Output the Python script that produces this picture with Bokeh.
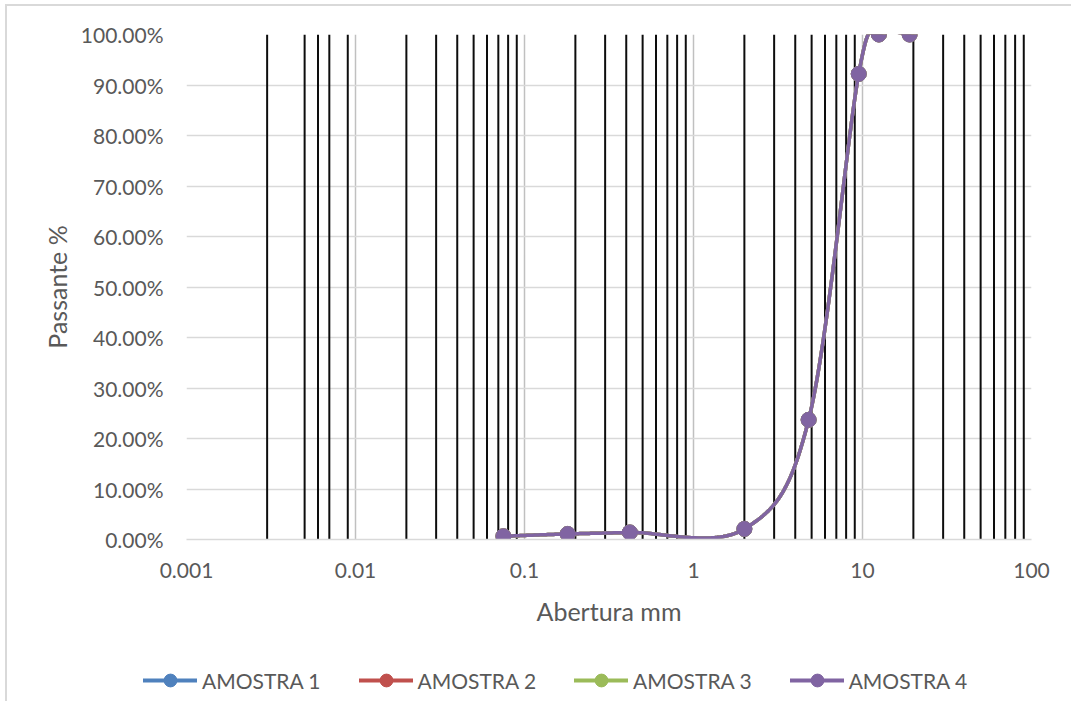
import numpy as np
from bokeh.plotting import figure
from bokeh.layouts import column
from bokeh.models import (FixedTicker, NumeralTickFormatter, Legend, LegendItem, Range1d)
from bokeh.embed import file_html
from bokeh.resources import INLINE

# ---------------- data ----------------
abertura_mm = [0.075, 0.18, 0.42, 2.0, 4.8, 9.5, 12.5, 19.0]
amostra_1 = [0.0065, 0.011, 0.014, 0.021, 0.237, 0.922, 1.0, 1.0]
amostra_2 = [0.0065, 0.011, 0.014, 0.021, 0.237, 0.922, 1.0, 1.0]
amostra_3 = [0.0065, 0.011, 0.014, 0.021, 0.237, 0.922, 1.0, 1.0]
amostra_4 = [0.0065, 0.011, 0.014, 0.021, 0.237, 0.922, 1.0, 1.0]
series_names = ["AMOSTRA 1", "AMOSTRA 2", "AMOSTRA 3", "AMOSTRA 4"]
series_colors = ["#4F81BD", "#C0504D", "#9BBB59", "#8064A2"]

x_tick_values = [0.001, 0.01, 0.1, 1, 10, 100]
x_tick_labels = ["0.001", "0.01", "0.1", "1", "10", "100"]
y_tick_values = [0.0, 0.1, 0.2, 0.3, 0.4, 0.5, 0.6, 0.7, 0.8, 0.9, 1.0]

# black vertical reference lines
black_line_x = [0.003, 0.005, 0.006, 0.007, 0.009,
                0.02, 0.03, 0.04, 0.05, 0.06, 0.07, 0.08, 0.09,
                0.2, 0.3, 0.4, 0.5, 0.6, 0.7, 0.8, 0.9,
                2, 3, 4, 5, 6, 7, 8, 9,
                20, 30, 40, 50, 60, 70, 80, 90]

FONT = "Lato"
TXT = "#595959"
FW, FH = 845, 505
WIDTH = 179 + FW + 40


def excel_smooth(xs, ys, sx, sy, n=40):
    u = np.log10(np.asarray(xs, float)) * sx
    v = np.asarray(ys, float) * sy
    P = np.column_stack([u, v])
    out = []
    t = np.linspace(0, 1, n)[:, None]
    for i in range(len(P) - 1):
        p0 = P[i - 1] if i > 0 else P[i]
        p1, p2 = P[i], P[i + 1]
        p3 = P[i + 2] if i + 2 < len(P) else P[i + 1]
        c1 = p1 + (p2 - p0) / 6.0
        c2 = p2 - (p3 - p1) / 6.0
        seg = (1 - t) ** 3 * p1 + 3 * (1 - t) ** 2 * t * c1 + 3 * (1 - t) * t ** 2 * c2 + t ** 3 * p2
        out.append(seg if i == 0 else seg[1:])
    pts = np.vstack(out)
    return 10 ** (pts[:, 0] / sx), pts[:, 1] / sy


p = figure(frame_width=FW, frame_height=FH, x_axis_type="log",
           x_range=Range1d(0.001, 100), y_range=Range1d(0, 1),
           output_backend="svg", toolbar_location=None,
           min_border_left=179, min_border_right=40, min_border_top=28, min_border_bottom=100,
           outline_line_color=None, background_fill_color="white", border_fill_color="white")

# grids
p.xgrid.ticker = FixedTicker(ticks=x_tick_values)
p.xgrid.grid_line_color = "#c0c0c0"
p.xgrid.grid_line_width = 1.5
p.ygrid.ticker = FixedTicker(ticks=y_tick_values)
p.ygrid.grid_line_color = "#d9d9d9"
p.ygrid.grid_line_width = 1.5

# axes
p.xaxis.ticker = FixedTicker(ticks=x_tick_values)
p.xaxis.major_label_overrides = {v: l for v, l in zip(x_tick_values, x_tick_labels)}
p.yaxis.ticker = FixedTicker(ticks=y_tick_values)
p.yaxis.formatter = NumeralTickFormatter(format="0.00%")
for ax in (p.xaxis[0], p.yaxis[0]):
    ax.major_tick_line_color = None
    ax.minor_tick_line_color = None
    ax.major_tick_out = 0
    ax.major_label_text_font = FONT
    ax.major_label_text_font_size = "21px"
    ax.major_label_text_color = TXT
    ax.axis_label_text_font = FONT
    ax.axis_label_text_font_size = "25px"
    ax.axis_label_text_font_style = "normal"
    ax.axis_label_text_color = TXT
p.xaxis.axis_line_color = "#d9d9d9"
p.xaxis.axis_line_width = 1.5
p.yaxis.axis_line_color = None
p.xaxis.axis_label = "Abertura mm"
p.yaxis.axis_label = "Passante %"
p.xaxis.major_label_standoff = 23
p.xaxis.axis_label_standoff = 15
p.yaxis.major_label_standoff = 23
p.yaxis.axis_label_standoff = 6

# black vertical lines
p.segment(x0=black_line_x, y0=[0] * len(black_line_x), x1=black_line_x, y1=[1] * len(black_line_x),
          line_color="#0d0d0d", line_width=2)

# series
sx = FW / 5.0
sy = FH / 1.0
for name, color, ys in zip(series_names, series_colors, [amostra_1, amostra_2, amostra_3, amostra_4]):
    xs_s, ys_s = excel_smooth(abertura_mm, ys, sx, sy)
    p.line(xs_s, ys_s, line_color=color, line_width=3.5, line_join="round", line_cap="round")
    p.scatter(abertura_mm, ys, size=15, fill_color=color, line_color=color)

# legend strip (separate figure so the legend can sit below the axis title)
leg = figure(width=WIDTH, height=62, x_range=Range1d(0, 1), y_range=Range1d(0, 1),
             output_backend="svg", toolbar_location=None,
             min_border=0, outline_line_color=None, background_fill_color="white",
             border_fill_color="white")
try:
    leg.frame_align = False
except Exception:
    pass
leg.xaxis.visible = False
leg.yaxis.visible = False
leg.grid.visible = False
items = []
for name, color in zip(series_names, series_colors):
    rl = leg.line(x=[np.nan], y=[np.nan], line_color=color, line_width=4, line_cap="round")
    rs = leg.scatter(x=[np.nan], y=[np.nan], size=13, fill_color=color, line_color=color)
    items.append(LegendItem(label=name, renderers=[rl, rs]))
legend = Legend(items=items, orientation="horizontal", location=(136, 5),
                glyph_width=54, glyph_height=32, label_standoff=5, spacing=38,
                padding=0, margin=0, background_fill_alpha=0, border_line_color=None,
                label_text_font=FONT, label_text_font_size="21px", label_text_color=TXT)
leg.add_layout(legend, "center")

layout = column(p, leg, spacing=0)
layout.styles = {"border-top": "2px solid #d9d9d9", "border-left": "2px solid #d9d9d9",
                 "margin-left": "5px", "margin-top": "4px"}

open("out.html", "w").write(file_html(layout, INLINE))
